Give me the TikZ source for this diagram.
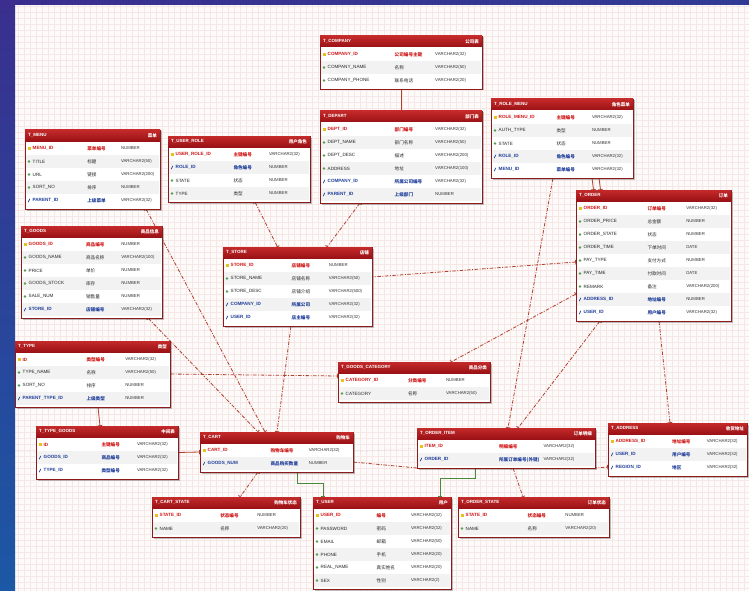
\documentclass[tikz,border=0pt]{standalone}
\usepackage{fontspec}
\setmainfont{Liberation Sans}
\newfontfamily\cjk{Noto Sans CJK SC}
\usetikzlibrary{arrows.meta,shapes.geometric}

\definecolor{bluetop}{HTML}{3A2F8E}
\definecolor{bluebot}{HTML}{1B58A5}
\definecolor{canvas}{HTML}{FDFAFA}
\definecolor{gridred}{HTML}{F6E6E6}
\definecolor{headtop}{HTML}{C42A2A}
\definecolor{headbot}{HTML}{9A1216}
\definecolor{framered}{HTML}{8E1B1B}
\definecolor{rowgray}{HTML}{F2F2F2}
\definecolor{pkred}{HTML}{D01818}
\definecolor{fkblue}{HTML}{1F3E9A}
\definecolor{keyyel}{HTML}{E8C21A}
\definecolor{colgreen}{HTML}{4FA34A}
\definecolor{relred}{HTML}{B0402A}
\definecolor{relgreen}{HTML}{4A8A3A}

\pgfdeclarelayer{bg}
\pgfdeclarelayer{lines}
\pgfsetlayers{bg,lines,main}

\tikzset{
  tabframe/.style={draw=framered, line width=0.7pt, inner sep=0pt, outer sep=0pt},
  tabshadow/.style={fill=black, opacity=0.25},
  tabhead/.style={top color=headtop, bottom color=headbot},
  headtxt/.style={text=white, font=\fontsize{4.5}{5}\selectfont\bfseries, inner sep=0pt},
  pktxt/.style={text=pkred, font=\fontsize{4.6}{5}\selectfont\bfseries, inner sep=0pt},
  coltxt/.style={text=black!85, font=\fontsize{4.6}{5}\selectfont, inner sep=0pt},
  fktxt/.style={text=fkblue, font=\fontsize{4.6}{5}\selectfont\bfseries, inner sep=0pt},
  typetxt/.style={text=black!80, font=\fontsize{4.3}{5}\selectfont, inner sep=0pt},
  pkicon/.style={fill=keyyel, inner sep=0pt, minimum width=3pt, minimum height=2.2pt},
  colicon/.style={fill=colgreen, diamond, inner sep=0pt, minimum size=3pt},
  fkicon/.style={fill=fkblue, inner sep=0pt, minimum width=0.7pt, minimum height=3.6pt, rotate=-25},
  rel/.style={draw=relred, line width=0.8pt, dash pattern=on 3.5pt off 1.5pt on 1pt off 1.5pt,
    arrows={Bar[width=4.5pt]-Bar[width=4.5pt]}},
  solidrel/.style={draw=relred, line width=0.8pt, arrows={Bar[width=4.5pt]-Bar[width=4.5pt]}},
  grel/.style={draw=relgreen, line width=0.8pt, arrows={Bar[width=3.5pt]-Bar[width=3.5pt]}},
  auxline/.style={draw=black!30, line width=0.4pt, dotted}
}

\def\rowwhite{white}
% #1 name, #2 x1, #3 y1, #4 x2, #5 rows, #6 title, #7 note
\newcommand{\ertable}[7]{%
  \pgfmathsetmacro\tabyb{#3+14+13*#5}
  \fill[tabshadow] (#2+1.5,#3+1.5) rectangle (#4+1.5,\tabyb+1.5);
  \fill[white] (#2,#3) rectangle (#4,\tabyb);
  \node[tabframe, minimum width={#4-#2}, minimum height={\tabyb-#3}] (#1) at ({(#2+#4)/2},{(#3+\tabyb)/2}) {};
  \shade[tabhead] (#2,#3) rectangle (#4,#3+11);
  \node[headtxt, anchor=west] at (#2+3,#3+5.5) {#6};
  \node[headtxt, anchor=east] at (#4-3,#3+5.5) {\cjk #7};
  \xdef\tabxa{#2}\xdef\tabxb{#4}
  \pgfmathsetmacro\tmpc{#2+0.46*(#4-#2)}\xdef\tabxc{\tmpc}
  \pgfmathsetmacro\tmpd{#2+0.71*(#4-#2)}\xdef\tabxd{\tmpd}
  \pgfmathsetmacro\tmpy{#3+12}\xdef\taby{\tmpy}
  \xdef\rowbg{white}
}
% #1 kind (pk/col/fk), #2 column, #3 comment, #4 type
\newcommand{\errow}[4]{%
  \fill[fill=\rowbg] (\tabxa+0.6,\taby) rectangle (\tabxb-0.6,\taby+13);
  \node[#1icon] at (\tabxa+4,\taby+6.5) {};
  \node[#1txt, anchor=west] at (\tabxa+7.5,\taby+6.5) {#2};
  \node[#1txt, anchor=west] at (\tabxc,\taby+6.5) {\cjk #3};
  \node[typetxt, anchor=west] at (\tabxd,\taby+6.5) {#4};
  \pgfmathsetmacro\nexty{\taby+13}\xdef\taby{\nexty}
  \ifx\rowbg\rowwhite\xdef\rowbg{rowgray}\else\xdef\rowbg{white}\fi
}

\begin{document}
\begin{tikzpicture}[x=1pt,y=-1pt]
\useasboundingbox (0,0) rectangle (749,591);
\clip (0,0) rectangle (749,591);

\begin{pgfonlayer}{bg}
\fill[canvas] (0,0) rectangle (749,591);
\draw[gridred, line width=0.2pt, step=6pt] (15,5) grid (749,591);
\shade[top color=bluetop, bottom color=bluebot] (0,0) rectangle (15,591);
\shade[left color=bluetop, right color=bluetop!70!bluebot] (0,0) rectangle (749,5);
\end{pgfonlayer}

\ertable{tcompany}{320}{36}{482}{3}{T\_COMPANY}{公司表}
\errow{pk}{COMPANY\_ID}{公司编号主键}{VARCHAR2(32)}
\errow{col}{COMPANY\_NAME}{名称}{VARCHAR2(50)}
\errow{col}{COMPANY\_PHONE}{联系电话}{VARCHAR2(20)}

\ertable{tdepart}{320}{111}{482}{6}{T\_DEPART}{部门表}
\errow{pk}{DEPT\_ID}{部门编号}{VARCHAR2(32)}
\errow{col}{DEPT\_NAME}{部门名称}{VARCHAR2(50)}
\errow{col}{DEPT\_DESC}{描述}{VARCHAR2(200)}
\errow{col}{ADDRESS}{地址}{VARCHAR2(100)}
\errow{fk}{COMPANY\_ID}{所属公司编号}{VARCHAR2(32)}
\errow{fk}{PARENT\_ID}{上级部门}{NUMBER}

\ertable{trolemenu}{491}{99}{633}{5}{T\_ROLE\_MENU}{角色菜单}
\errow{pk}{ROLE\_MENU\_ID}{主键编号}{VARCHAR2(32)}
\errow{col}{AUTH\_TYPE}{类型}{NUMBER}
\errow{col}{STATE}{状态}{NUMBER}
\errow{fk}{ROLE\_ID}{角色编号}{VARCHAR2(32)}
\errow{fk}{MENU\_ID}{菜单编号}{VARCHAR2(32)}

\ertable{tmenu}{25}{130}{160}{5}{T\_MENU}{菜单}
\errow{pk}{MENU\_ID}{菜单编号}{NUMBER}
\errow{col}{TITLE}{标题}{VARCHAR2(50)}
\errow{col}{URL}{链接}{VARCHAR2(200)}
\errow{col}{SORT\_NO}{排序}{NUMBER}
\errow{fk}{PARENT\_ID}{上级菜单}{VARCHAR2(32)}

\ertable{tuserrole}{168}{136}{310}{4}{T\_USER\_ROLE}{用户角色}
\errow{pk}{USER\_ROLE\_ID}{主键编号}{VARCHAR2(32)}
\errow{fk}{ROLE\_ID}{角色编号}{NUMBER}
\errow{col}{STATE}{状态}{NUMBER}
\errow{col}{TYPE}{类型}{NUMBER}

\ertable{tgoods}{21}{226}{162}{6}{T\_GOODS}{商品信息}
\errow{pk}{GOODS\_ID}{商品编号}{NUMBER}
\errow{col}{GOODS\_NAME}{商品名称}{VARCHAR2(100)}
\errow{col}{PRICE}{单价}{NUMBER}
\errow{col}{GOODS\_STOCK}{库存}{NUMBER}
\errow{col}{SALE\_NUM}{销售量}{NUMBER}
\errow{fk}{STORE\_ID}{店铺编号}{VARCHAR2(32)}

\ertable{tstore}{223}{247}{372}{5}{T\_STORE}{店铺}
\errow{pk}{STORE\_ID}{店铺编号}{NUMBER}
\errow{col}{STORE\_NAME}{店铺名称}{VARCHAR2(50)}
\errow{col}{STORE\_DESC}{店铺介绍}{VARCHAR2(500)}
\errow{fk}{COMPANY\_ID}{所属公司}{VARCHAR2(32)}
\errow{fk}{USER\_ID}{店主编号}{VARCHAR2(32)}

\ertable{torder}{576}{190}{731}{9}{T\_ORDER}{订单}
\errow{pk}{ORDER\_ID}{订单编号}{VARCHAR2(32)}
\errow{col}{ORDER\_PRICE}{总金额}{NUMBER}
\errow{col}{ORDER\_STATE}{状态}{NUMBER}
\errow{col}{ORDER\_TIME}{下单时间}{DATE}
\errow{col}{PAY\_TYPE}{支付方式}{NUMBER}
\errow{col}{PAY\_TIME}{付款时间}{DATE}
\errow{col}{REMARK}{备注}{VARCHAR2(200)}
\errow{fk}{ADDRESS\_ID}{地址编号}{NUMBER}
\errow{fk}{USER\_ID}{用户编号}{VARCHAR2(32)}

\ertable{ttype}{15}{341}{170}{4}{T\_TYPE}{类型}
\errow{pk}{ID}{类型编号}{VARCHAR2(32)}
\errow{col}{TYPE\_NAME}{名称}{VARCHAR2(50)}
\errow{col}{SORT\_NO}{排序}{NUMBER}
\errow{fk}{PARENT\_TYPE\_ID}{上级类型}{NUMBER}

\ertable{tcategory}{338}{362}{490}{2}{T\_GOODS\_CATEGORY}{商品分类}
\errow{pk}{CATEGORY\_ID}{分类编号}{NUMBER}
\errow{col}{CATEGORY}{名称}{VARCHAR2(50)}

\ertable{ttypegoods}{36}{426}{178}{3}{T\_TYPE\_GOODS}{中间表}
\errow{pk}{ID}{主键编号}{VARCHAR2(32)}
\errow{fk}{GOODS\_ID}{商品编号}{VARCHAR2(32)}
\errow{fk}{TYPE\_ID}{类型编号}{VARCHAR2(32)}

\ertable{tcart}{200}{432}{353}{2}{T\_CART}{购物车}
\errow{pk}{CART\_ID}{购物车编号}{VARCHAR2(32)}
\errow{fk}{GOODS\_NUM}{商品购买数量}{NUMBER}

\ertable{titem}{417}{428}{595}{2}{T\_ORDER\_ITEM}{订单明细}
\errow{pk}{ITEM\_ID}{明细编号}{VARCHAR2(32)}
\errow{fk}{ORDER\_ID}{所属订单编号(外键)}{VARCHAR2(32)}

\ertable{taddress}{608}{423}{747}{3}{T\_ADDRESS}{收货地址}
\errow{pk}{ADDRESS\_ID}{地址编号}{VARCHAR2(32)}
\errow{fk}{USER\_ID}{用户编号}{VARCHAR2(32)}
\errow{fk}{REGION\_ID}{地区}{VARCHAR2(32)}

\ertable{tcartstate}{152}{497}{300}{2}{T\_CART\_STATE}{购物车状态}
\errow{pk}{STATE\_ID}{状态编号}{NUMBER}
\errow{col}{NAME}{名称}{VARCHAR2(20)}

\ertable{tuser}{313}{497}{451}{6}{T\_USER}{用户}
\errow{pk}{USER\_ID}{编号}{VARCHAR2(32)}
\errow{col}{PASSWORD}{密码}{VARCHAR2(32)}
\errow{col}{EMAIL}{邮箱}{VARCHAR2(50)}
\errow{col}{PHONE}{手机}{VARCHAR2(20)}
\errow{col}{REAL\_NAME}{真实姓名}{VARCHAR2(20)}
\errow{col}{SEX}{性别}{VARCHAR2(2)}

\ertable{tstate}{458}{497}{609}{2}{T\_ORDER\_STATE}{订单状态}
\errow{pk}{STATE\_ID}{状态编号}{NUMBER}
\errow{col}{NAME}{名称}{VARCHAR2(20)}

\coordinate (leftedge) at (15,451);

\begin{pgfonlayer}{lines}
\draw[solidrel] (tcompany.south) -- (tdepart.north);
\draw[rel] ([xshift=16pt]tuserrole.south) -- ([xshift=-20pt]tstore.north);
\draw[rel] ([xshift=-41pt]tdepart.south) -- ([xshift=29.5pt]tstore.north);
\draw[rel] ([xshift=-9pt]trolemenu.south) -- ([xshift=2pt]titem.north);
\draw[solidrel] ([xshift=30pt]trolemenu.south) -- ([xshift=-60pt]torder.north);
\draw[solidrel] ([xshift=37pt]trolemenu.south) -- ([xshift=-53pt]torder.north);
\draw[rel] ([yshift=-6.5pt]torder.west) -- ([yshift=9.5pt]tstore.east);
\draw[rel] ([yshift=-38.5pt]torder.west) -- ([xshift=37pt]tcategory.north);
\draw[rel] ([xshift=-53.5pt]torder.south) -- ([xshift=12pt]titem.north);
\draw[rel] ([xshift=5.5pt]torder.south) -- ([xshift=-7.5pt]taddress.north);
\draw[rel] ([xshift=53.5pt]tmenu.south) -- ([xshift=-11.5pt]tcart.north);
\draw[rel] ([xshift=56.5pt]tgoods.south) -- ([xshift=-18.5pt]tcart.north);
\draw[rel] ([xshift=-6.5pt]tstore.south) -- ([xshift=0.5pt]tcart.north);
\draw[rel] (ttype.east) -- ([yshift=6pt]tcategory.west);
\draw[solidrel] ([xshift=5.5pt]ttype.south) -- ([xshift=-7pt]ttypegoods.north);
\draw[solidrel] (ttypegoods.east) -- (tcart.west);
\draw[rel] ([yshift=-10pt]tcart.east) -- (titem.south west) -- (titem.south east) -- ([yshift=-17.5pt]taddress.west);
\draw[rel] ([xshift=-18.5pt]tcart.south) -- ([xshift=14pt]tcartstate.north);
\draw[grel] ([xshift=20.5pt]tcart.south) -- ++(0,11) -| ([xshift=-59pt]tuser.north);
\draw[grel] ([xshift=-31pt]titem.south) -- ++(0,10) -| ([xshift=58pt]tuser.north);
\draw[rel] ([xshift=7pt]titem.south) -- ([xshift=-10.5pt]tstate.north);
\draw[auxline] (leftedge) -- (ttypegoods.west);
\draw[auxline] (tcart.east) -- (titem.west);
\end{pgfonlayer}
\end{tikzpicture}
\end{document}
